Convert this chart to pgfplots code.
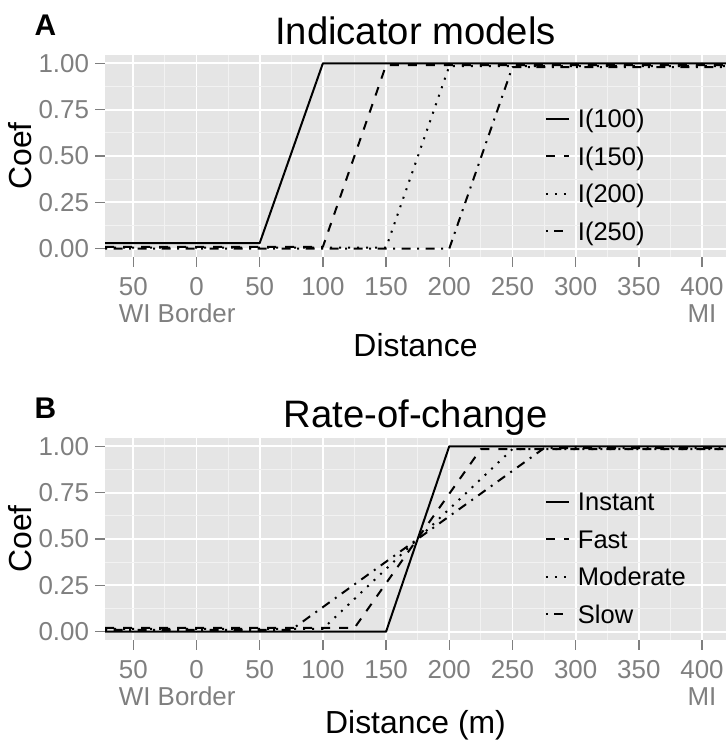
\documentclass[border=0pt]{standalone}
\usepackage{pgfplots}
\pgfplotsset{compat=1.18}
\usepackage{fontspec}
\setmainfont{Liberation Sans}
\definecolor{panelbg}{RGB}{229,229,229}
\definecolor{minorgrid}{RGB}{242,242,242}
\definecolor{tickgrey}{RGB}{127,127,127}

\pgfplotsset{
  ggstyle/.style={
    scale only axis, width=621bp, height=202bp,
    xmin=-72.4, xmax=419, ymin=-0.045, ymax=1.045,
    axis background/.style={fill=panelbg},
    axis line style={draw=none},
    xtick={-50,0,50,100,150,200,250,300,350,400},
    xticklabels={{50\\\rlap{WI Border}\phantom{50}},0,50,100,150,200,250,300,350,{400\\MI}},
    minor xtick={-25,25,75,125,175,225,275,325,375},
    ytick={0,0.25,0.5,0.75,1},
    yticklabels={0.00,0.25,0.50,0.75,1.00},
    minor ytick={0.125,0.375,0.625,0.875},
    grid=both,
    major grid style={white, line width=1.8bp},
    minor grid style={minorgrid, line width=0.9bp},
    tick align=outside,
    tick pos=left,
    major tick length=9.5bp, minor tick length=0pt,
    major tick style={tickgrey, line width=1.4bp},
    minor tick style={draw=none},
    ticklabel style={font=\fontsize{26}{27}\selectfont, text=tickgrey},
    xticklabel style={align=center, yshift=-7bp},
    yticklabel style={xshift=-3bp},
    ylabel={Coef},
    ylabel style={font=\fontsize{32}{34}\selectfont, at={(axis description cs:-0.1176,0.5)}, anchor=base},
    title style={font=\fontsize{38.4}{40}\selectfont, at={(axis description cs:0.5,1)}, anchor=base, yshift=5bp},
    legend cell align=left,
    legend image code/.code={\draw[#1] (0bp,2.7bp) -- (23bp,2.7bp);},
    legend style={draw=none, fill=none, inner sep=0pt, outer sep=0pt,
      at={(rel axis cs:0.7085,0.733)}, anchor=north west,
      font=\fontsize{25.6}{30}\selectfont,
      row sep=12.5bp, column sep=8bp,
      nodes={inner sep=0pt, text height=19bp, text depth=6bp}},
  },
  lsolid/.style={black, line width=2bp, line join=round},
  ldashed/.style={black, line width=2bp, line join=round, dash pattern=on 9bp off 9bp},
  ldotted/.style={black, line width=2bp, line join=round, dash pattern=on 2bp off 7bp},
  ldotdash/.style={black, line width=2bp, line join=round, dash pattern=on 2bp off 6.5bp on 9bp off 6.5bp},
}

\begin{document}
\begin{tikzpicture}
\useasboundingbox (0bp,0bp) rectangle (726bp,-742bp);

\begin{axis}[ggstyle, at={(105bp,-55bp)}, anchor=north west,
  title={Indicator models},
  xlabel={Distance},
  xlabel style={font=\fontsize{32}{34}\selectfont, at={(axis description cs:0.5,0)}, anchor=base, yshift=-99bp},
]
\addplot[lsolid] coordinates {(-72.4,0.03) (50,0.03) (100,1.0) (419,1.0)};
\addlegendentry{I(100)}
\addplot[ldashed] coordinates {(-72.4,0.01) (100,0.01) (150,0.99) (419,0.99)};
\addlegendentry{I(150)}
\addplot[ldotted] coordinates {(-72.4,0.005) (150,0.005) (200,0.985) (419,0.985)};
\addlegendentry{I(200)}
\addplot[ldotdash] coordinates {(-72.4,0.0) (200,0.0) (250,0.98) (419,0.98)};
\addlegendentry{I(250)}
\end{axis}
\node[anchor=base west, font=\fontsize{30}{32}\selectfont\bfseries] at (31bp,-35bp) {A};

\begin{axis}[ggstyle, at={(105bp,-438bp)}, anchor=north west,
  title={Rate-of-change},
  xlabel={Distance (m)},
  xlabel style={font=\fontsize{32}{34}\selectfont, at={(axis description cs:0.5,0)}, anchor=base, yshift=-93bp},
]
\addplot[lsolid] coordinates {(-72.4,0.0) (150,0.0) (200,1.0) (419,1.0)};
\addlegendentry{Instant}
\addplot[ldashed] coordinates {(-72.4,0.02) (125,0.02) (225,0.985) (419,0.985)};
\addlegendentry{Fast}
\addplot[ldotted] coordinates {(-72.4,0.015) (100,0.015) (250,0.985) (419,0.985)};
\addlegendentry{Moderate}
\addplot[ldotdash] coordinates {(-72.4,0.01) (75,0.01) (275,0.99) (419,0.99)};
\addlegendentry{Slow}
\end{axis}
\node[anchor=base west, font=\fontsize{30}{32}\selectfont\bfseries] at (31bp,-418bp) {B};
\end{tikzpicture}
\end{document}
